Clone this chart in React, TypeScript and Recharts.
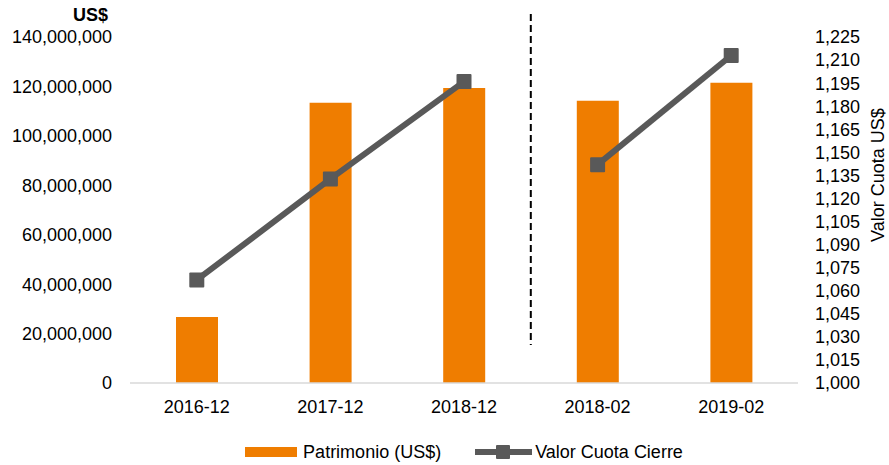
import {
  ComposedChart,
  Bar,
  Line,
  XAxis,
  YAxis,
  ReferenceLine,
} from 'recharts';

const categories = ['2016-12', '2017-12', '2018-12', '2018-02', '2019-02'];
const patrimonio = [26700000, 113400000, 119400000, 114200000, 121500000];
// valor cuota split in two periods (line is broken between them)
const cuotaPeriodo1 = [1067, 1132.7, 1196, null, null];
const cuotaPeriodo2 = [null, null, null, 1142, 1213];

const leftTicks = [0, 20000000, 40000000, 60000000, 80000000, 100000000, 120000000, 140000000];
const rightTicks = [
  1000, 1015, 1030, 1045, 1060, 1075, 1090, 1105, 1120, 1135, 1150, 1165, 1180, 1195, 1210, 1225,
];

const data = categories.map((name, i) => ({
  name,
  patrimonio: patrimonio[i],
  cuota1: cuotaPeriodo1[i],
  cuota2: cuotaPeriodo2[i],
}));

const WIDTH = 889;
const HEIGHT = 465;
const LEFT_AXIS_W = 130;
const RIGHT_AXIS_W = 91;
const PLOT_W = WIDTH - LEFT_AXIS_W - RIGHT_AXIS_W;
const BAND = PLOT_W / categories.length;

const FONT = '"Liberation Sans", Arial, Helvetica, sans-serif';
const ORANGE = '#EF7D00';
const GREY = '#595959';

const fmt = (v: number) => Number(v).toLocaleString('en-US');

const squareDot = (props: any) => {
  const { cx, cy, index, dataKey } = props;
  if (cx == null || cy == null) return <g key={`${dataKey}-${index}`} />;
  return (
    <rect key={`${dataKey}-${index}`} x={cx - 7.5} y={cy - 7.5} width={15} height={15} rx={1} fill={GREY} />
  );
};

const dividerShape = (props: any) => {
  const x = props.x1 + BAND / 2;
  return <line x1={x} y1={14} x2={x} y2={345} stroke="#000" strokeWidth={2} strokeDasharray="7 4" />;
};

export default function App() {
  return (
    <div style={{ position: 'absolute', left: 0, top: 0, width: WIDTH, height: HEIGHT, background: '#fff', fontFamily: FONT }}>
      <ComposedChart
        width={WIDTH}
        height={HEIGHT}
        data={data}
        margin={{ top: 37, right: 0, bottom: 52, left: 0 }}
      >
        <XAxis
          dataKey="name"
          height={30}
          tickLine={false}
          tickSize={0}
          tickMargin={17}
          axisLine={{ stroke: '#d9d9d9', strokeWidth: 1.5 }}
          tick={{ fill: '#000', fontSize: 18, fontFamily: FONT }}
        />
        <YAxis
          yAxisId="left"
          width={LEFT_AXIS_W}
          domain={[0, 140000000]}
          ticks={leftTicks}
          interval={0}
          tickFormatter={fmt}
          axisLine={false}
          tickLine={false}
          tickSize={0}
          tickMargin={18}
          tick={{ fill: '#000', fontSize: 18, fontFamily: FONT }}
          label={{
            content: ({ viewBox }: any) => (
              <text x={viewBox.x + 108} y={21} textAnchor="end" fontSize={18} fontWeight="bold" fontFamily={FONT} fill="#000">
                US$
              </text>
            ),
          }}
        />
        <YAxis
          yAxisId="right"
          orientation="right"
          width={RIGHT_AXIS_W}
          domain={[1000, 1225]}
          ticks={rightTicks}
          interval={0}
          tickFormatter={fmt}
          axisLine={false}
          tickLine={false}
          tickSize={0}
          tickMargin={17}
          tick={{ fill: '#000', fontSize: 18, fontFamily: FONT }}
          label={{
            content: ({ viewBox }: any) => (
              <text
                x={viewBox.x + 80}
                y={175}
                transform={`rotate(-90, ${viewBox.x + 80}, 175)`}
                textAnchor="middle"
                dominantBaseline="central"
                fontSize={18}
                fontFamily={FONT}
                fill="#000"
              >
                Valor Cuota US$
              </text>
            ),
          }}
        />
        <Bar yAxisId="left" dataKey="patrimonio" fill={ORANGE} barSize={42} isAnimationActive={false} />
        <Line
          yAxisId="right"
          dataKey="cuota1"
          stroke={GREY}
          strokeWidth={6}
          dot={squareDot}
          activeDot={false}
          connectNulls={false}
          isAnimationActive={false}
        />
        <Line
          yAxisId="right"
          dataKey="cuota2"
          stroke={GREY}
          strokeWidth={6}
          dot={squareDot}
          activeDot={false}
          connectNulls={false}
          isAnimationActive={false}
        />
        <ReferenceLine yAxisId="left" x="2018-12" shape={dividerShape} />
      </ComposedChart>
      <div
        style={{
          position: 'absolute',
          left: LEFT_AXIS_W,
          width: PLOT_W,
          top: 441,
          display: 'flex',
          justifyContent: 'center',
          alignItems: 'center',
          fontSize: 18,
          color: '#000',
          lineHeight: '22px',
        }}
      >
        <span style={{ display: 'inline-block', width: 52, height: 10, background: ORANGE, marginRight: 6 }} />
        <span>Patrimonio (US$)</span>
        <svg width={57} height={16} style={{ marginLeft: 34, marginRight: 3 }}>
          <line x1={0} y1={8} x2={57} y2={8} stroke={GREY} strokeWidth={6} strokeLinecap="round" />
          <rect x={21} y={1} width={14} height={14} rx={1} fill={GREY} />
        </svg>
        <span>Valor Cuota Cierre</span>
      </div>
    </div>
  );
}
